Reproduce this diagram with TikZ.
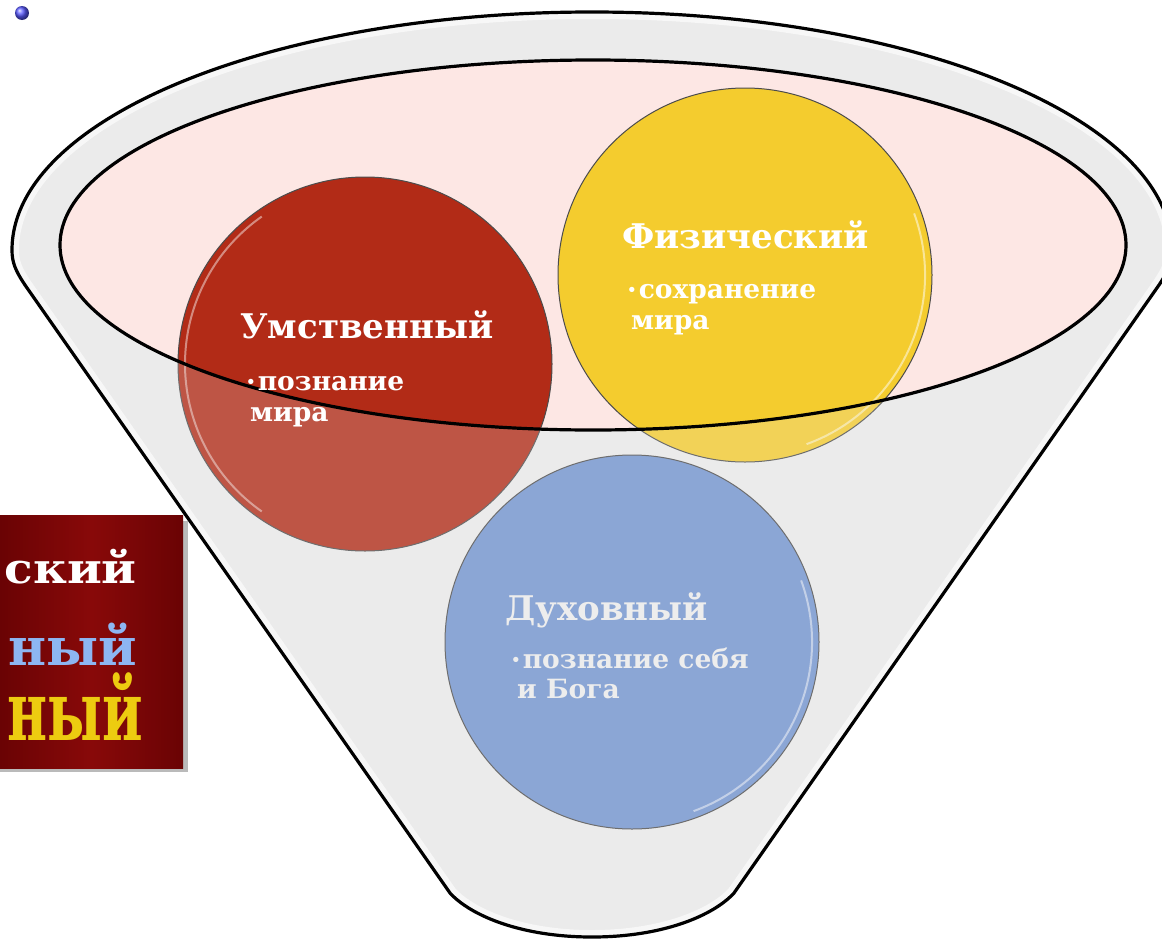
\documentclass[tikz,border=0pt]{standalone}
\usepackage{fontspec}
\setmainfont{DejaVu Serif}
\usepackage{graphicx}
\usetikzlibrary{positioning}

\definecolor{rimgrey}{HTML}{EBEBEB}
\definecolor{bowlpink}{HTML}{FDE7E4}
\definecolor{mindred}{HTML}{B22B17}
\definecolor{bodyyellow}{HTML}{F4CC2E}
\definecolor{soulblue}{HTML}{7193D0}
\definecolor{boxred}{HTML}{880909}
\definecolor{boxdark}{HTML}{6A0304}
\definecolor{wordblue}{HTML}{8DB6F2}
\definecolor{wordgold}{HTML}{EDCC10}

\newcommand{\bull}{\raisebox{3pt}{\fontsize{15}{15}\selectfont •}\hspace{2pt}}

\tikzstyle{ball} = [circle, draw=black!70, line width=1pt,
    minimum size=374pt, inner sep=0pt]
\tikzstyle{head} = [anchor=base west, text=white, inner sep=0pt,
    font=\bfseries\fontsize{34}{40}\selectfont]
\tikzstyle{body} = [anchor=base west, text=white, inner sep=0pt,
    font=\bfseries\fontsize{26.5}{30}\selectfont]
\tikzstyle{word} = [anchor=base east, inner sep=0pt, font=\bfseries]
\tikzstyle{edge} = [draw=black, line width=3.2pt, line join=round]

\begin{document}
\begin{tikzpicture}[x=1pt, y=1pt]
    \useasboundingbox (0,0) rectangle (1162,-940);
    % funnel body
    \path[save path=\funnel] (592,-937) .. controls (520,-937) and (470,-915) .. (450,-893)
        -- (25,-285) .. controls (15,-270) and (12,-262) .. (12,-250)
        arc[start angle=180, end angle=0, x radius=580, y radius=238]
        .. controls (1172,-262) and (1169,-270) .. (1159,-285)
        -- (734,-893) .. controls (714,-915) and (664,-937) .. (592,-937) -- cycle;
    \fill[rimgrey, use path=\funnel];
    \begin{scope}
        \clip[use path=\funnel];
        \draw[white, line width=14pt, opacity=.8, use path=\funnel];
    \end{scope}
    \fill[bowlpink] (593,-245) ellipse [x radius=533, y radius=185];

    % Place nodes
    \node [ball, fill=mindred] (mind) at (365,-364) {};
    \node [ball, fill=bodyyellow] (phys) at (745,-275) {};
    \node [ball, fill=soulblue] (soul) at (632,-642) {};
    \draw[white, opacity=.45, line width=2pt] (mind) ++(125:180) arc[start angle=125, end angle=235, radius=180];
    \draw[white, opacity=.5, line width=2pt] (phys) ++(-70:180) arc[start angle=-70, end angle=20, radius=180];
    \draw[white, opacity=.5, line width=2pt] (soul) ++(-70:180) arc[start angle=-70, end angle=20, radius=180];

    % veil of the funnel over the circles
    \begin{scope}
        \clip[use path=\funnel];
        \fill[rimgrey, opacity=.22, even odd rule] (0,0) rectangle (1162,-940)
            (593,-245) ellipse [x radius=533, y radius=185];
    \end{scope}

    % outlines
    \draw[edge, use path=\funnel];
    \draw[edge] (593,-245) ellipse [x radius=533, y radius=185];

    % texts
    \node [head] (headU) at (240,-338) {Умственный};
    \node [body] (bodyU) at (246,-390) {\begin{tabular}[t]{@{}l@{}}\bull познание\\[1pt]\hspace{4pt}мира\end{tabular}};
    \node [head] (headF) at (622,-248) {Физический};
    \node [body] (bodyF) at (627,-298) {\begin{tabular}[t]{@{}l@{}}\bull сохранение\\[1pt]\hspace{4pt}мира\end{tabular}};
    \node [head, text=white!93!black] (headD) at (505,-620) {Духовный};
    \node [body, text=white!93!black] (bodyD) at (511,-668) {\begin{tabular}[t]{@{}l@{}}\bull познание себя\\[0pt]\hspace{6pt}и Бога\end{tabular}};

    % red panel at the left
    \fill[black!45, opacity=.6] (0,-521) rectangle (188,-772);
    \node [rectangle, minimum width=183pt, minimum height=253pt, inner sep=0pt,
        left color=boxdark, right color=boxdark, middle color=boxred] (panel) at (91.5,-641.5) {};
    \node [word, text=white] (wordA) at (137,-583) {\fontsize{42}{44}\selectfont\scalebox{1.12}[1]{ский}};
    \node [word, text=wordblue] (wordB) at (137,-665) {\fontsize{52}{56}\selectfont ный};
    \node [word, text=wordgold] (wordC) at (143,-740) {\fontsize{83}{85}\selectfont\scalebox{0.66}[1]{ный}};

    % small dot
    \node [circle, ball color=blue!65, minimum size=14pt, inner sep=0pt] (dot) at (22,-13) {};
\end{tikzpicture}
\end{document}
